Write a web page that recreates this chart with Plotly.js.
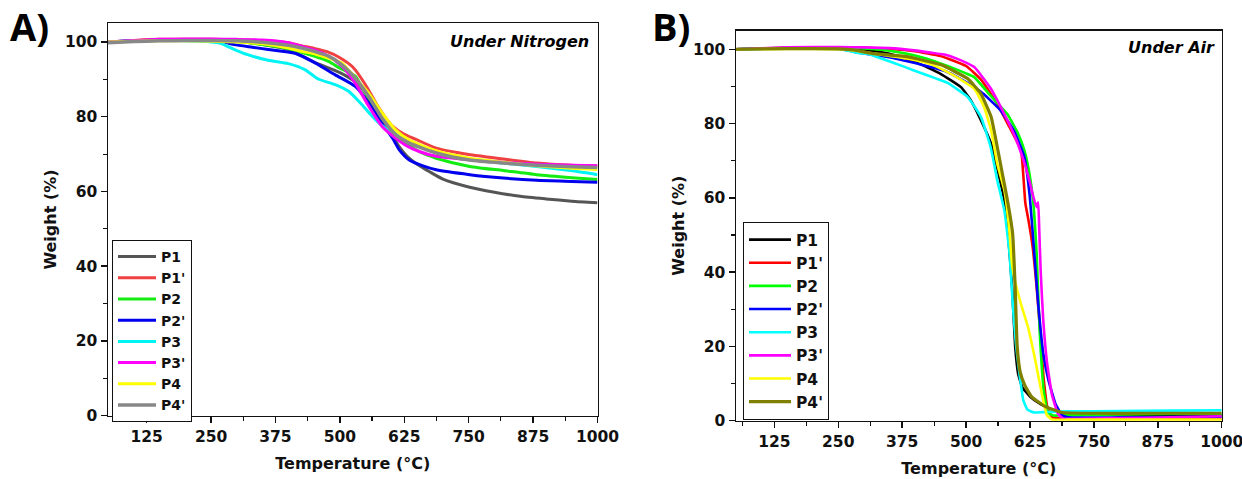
<!DOCTYPE html>
<html>
<head>
<meta charset="utf-8">
<script src="https://cdn.plot.ly/plotly-3.0.1.min.js"></script>
<style>html,body{margin:0;padding:0;background:#fff;}#chart{width:1242px;height:479px;}</style>
</head>
<body>
<div id="chart"></div>
<script>
// ---------- Data: (A) Under Nitrogen ----------
const seriesNames = ["P1", "P1'", "P2", "P2'", "P3", "P3'", "P4", "P4'"];
const xTickVals = [125, 250, 375, 500, 625, 750, 875, 1000];
const yTickVals = [0, 20, 40, 60, 80, 100];

const n2_P1_T  = [50,100,150,200,250,300,350,400,450,500,525,550,575,600,615,630,650,675,700,750,800,850,900,950,1000];
const n2_P1_W  = [100,100.3,100.6,100.6,100.5,100.2,99.3,98.0,94.6,91.8,89.8,86.5,81.0,75.5,72.0,69.5,67.3,65.2,63.3,61.2,59.8,58.7,58.0,57.4,57.0];
const n2_P1p_T = [50,100,150,200,250,300,350,400,425,450,475,500,525,550,575,600,625,650,687,750,817,882,950,1000];
const n2_P1p_W = [100,100.4,100.7,100.7,100.7,100.6,100.4,99.8,99.0,98.3,97.4,95.8,93.3,88.5,82.5,77.8,75.3,73.8,71.6,69.9,68.7,67.6,67.0,66.8];
const n2_P2_T  = [50,100,150,200,250,300,350,400,450,478,500,530,556,582,600,621,654,687,752,817,882,950,1000];
const n2_P2_W  = [100,100.3,100.5,100.5,100.4,100.1,99.3,98.2,96.2,94.8,93.0,90.8,84.6,79.2,76.5,73.8,70.7,68.9,66.7,65.6,64.5,63.7,63.2];
const n2_P2p_T = [50,100,150,200,250,280,295,330,361,413,452,491,530,556,582,602,615,634,660,687,752,817,882,950,1000];
const n2_P2p_W = [100,100.3,100.5,100.5,100.3,99.8,99.3,98.6,98.0,97.0,94.4,91.2,88.1,83.7,78.3,74.3,71.2,68.5,66.9,65.8,64.5,63.6,63.0,62.7,62.5];
const n2_P3_T  = [50,100,150,200,250,270,282,300,321,361,400,432,458,491,517,543,563,582,608,634,687,752,817,882,948,1000];
const n2_P3_W  = [100,100.3,100.4,100.3,100.0,99.6,98.8,97.7,96.6,95.1,94.2,92.6,90.1,88.6,86.8,83.2,80.1,77.6,75.2,73.4,70.7,68.6,67.6,66.7,65.6,64.5];
const n2_P3p_T = [50,100,150,200,250,300,350,400,426,452,478,504,530,556,582,608,630,654,687,752,817,882,950,1000];
const n2_P3p_W = [100,100.4,100.7,100.8,100.8,100.7,100.5,99.8,98.8,97.8,96.2,93.5,89.0,82.8,77.4,74.3,72.2,70.7,69.4,68.5,67.8,67.3,67.0,66.9];
const n2_P4_T  = [50,100,150,200,250,300,350,400,426,452,478,504,530,556,582,608,634,687,752,817,882,950,1000];
const n2_P4_W  = [100,100.2,100.3,100.3,100.2,100.0,99.5,98.4,97.5,96.8,95.7,94.4,90.3,86.3,81.0,76.5,73.8,70.9,68.9,67.8,66.9,66.2,65.9];
const n2_P4p_T = [50,100,150,200,250,300,350,400,426,452,478,504,530,556,582,608,634,687,752,817,882,950,1000];
const n2_P4p_W = [99.8,100.1,100.3,100.4,100.4,100.3,99.9,99.1,98.4,97.4,96.2,93.9,90.3,85.4,79.6,75.2,73.0,70.3,68.4,67.6,67.0,66.6,66.4];

// ---------- Data: (B) Under Air ----------
const air_P1_T  = [50,150,250,300,350,400,450,490,509,529,549,562,575,581,590,596,602,610,625,645,680,720,800,900,1000];
const air_P1_W  = [100,100.3,100.2,99.8,98.8,96.6,93.4,89.8,86.3,80.9,74.6,67.4,59.3,52.2,36,20,12.5,9.0,6.5,4.5,2.4,1.8,1.7,1.6,1.5];
const air_P1p_T = [50,150,250,300,350,400,450,500,530,560,585,600,608,612,616,622,630,638,645,652,660,670,700,800,900,1000];
const air_P1p_W = [100,100.4,100.5,100.4,100.1,99.5,98.2,95.5,91.7,85.5,79.0,75.0,72.5,66,58.5,54,47,36,24,11,3,0.8,0.5,0.5,0.5,0.5];
const air_P2_T  = [50,150,250,300,350,400,450,500,516,548,581,601,614,624,631,638,644,652,660,670,700,800,900,1000];
const air_P2_W  = [100,100.4,100.4,100.2,99.6,98.3,96.2,93.5,92.5,87.5,82.5,77.5,72.8,66.5,59.4,45,24,8,2.2,1.4,1.5,1.7,1.8,1.8];
const air_P2p_T = [50,150,250,282,300,344,400,442,463,499,533,567,594,614,624,631,641,651,661,675,688,700,800,900,1000];
const air_P2p_W = [100,100.3,100.2,99.3,98.9,98.0,96.3,94.8,93.9,91.2,88.1,83.6,78.0,71.0,61.2,49.5,31.6,18.1,11,4.5,1.5,0.9,0.9,1.0,1.0];
const air_P3_T  = [50,150,250,270,290,312,333,377,398,442,463,503,529,548,561,575,585,592,598,605,612,620,633,650,700,800,900,1000];
const air_P3_W  = [100,100.3,100.1,99.6,99.0,98.6,97.6,95.4,94.3,92.1,91.0,87.2,81.8,73.7,64.7,56.5,45,30,20,12,5.5,3.0,2.2,2.3,2.5,2.6,2.7,2.8];
const air_P3p_T = [50,150,250,300,350,398,430,463,490,516,548,575,594,604,615,625,633,638,641,643,646,651,658,668,680,690,750,850,1000];
const air_P3p_W = [100,100.5,100.6,100.5,100.3,99.7,99.1,98.4,97.0,95.2,89.5,82.5,77.0,73.5,69.0,64.0,59.5,57.5,58.8,52,40,27,16,7,1.8,0.6,0.6,0.8,1.2];
const air_P4_T  = [50,150,250,280,316,384,430,463,490,516,535,549,561,575,584,590,596,607,621,634,648,658,668,700,800,1000];
const air_P4_W  = [100,100.1,100.0,99.7,98.9,97.5,96.0,93.9,91.8,89.4,84.5,78.2,69.2,62.0,52.2,42,37.5,31.6,25.3,17.2,7.4,1.5,0.3,0.3,0.3,0.3];
const air_P4p_T = [50,150,250,280,316,384,451,503,529,549,561,571,581,591,596,600,606,615,628,655,688,750,850,1000];
const air_P4p_W = [100,100.2,100.1,99.8,98.9,98.0,95.8,92.1,88.0,81.8,73.7,66.5,59.3,50.5,36,20,13,9.5,6.5,3.8,2.2,2.0,2.0,2.0];

const n2Colors  = ["#555555", "#ef4141", "#14ec14", "#0000ee", "#00f4f4", "#ff00ff", "#ffff00", "#888888"];
const airColors = ["#000000", "#ff0000", "#00ff00", "#0000ff", "#00ffff", "#ff00ff", "#ffff00", "#808000"];

const n2T = [n2_P1_T, n2_P1p_T, n2_P2_T, n2_P2p_T, n2_P3_T, n2_P3p_T, n2_P4_T, n2_P4p_T];
const n2W = [n2_P1_W, n2_P1p_W, n2_P2_W, n2_P2p_W, n2_P3_W, n2_P3p_W, n2_P4_W, n2_P4p_W];
const airT = [air_P1_T, air_P1p_T, air_P2_T, air_P2p_T, air_P3_T, air_P3p_T, air_P4_T, air_P4p_T];
const airW = [air_P1_W, air_P1p_W, air_P2_W, air_P2p_W, air_P3_W, air_P3p_W, air_P4_W, air_P4p_W];

const W = 1242, H = 479;
const traces = [];
seriesNames.forEach((name, i) => {
  traces.push({
    x: n2T[i], y: n2W[i], name: name, type: 'scatter', mode: 'lines',
    xaxis: 'x', yaxis: 'y', legend: 'legend',
    line: {color: n2Colors[i], width: i === 7 ? 3.5 : 3, shape: 'spline', smoothing: 0.6}
  });
});
seriesNames.forEach((name, i) => {
  traces.push({
    x: airT[i], y: airW[i], name: name, type: 'scatter', mode: 'lines',
    xaxis: 'x2', yaxis: 'y2', legend: 'legend2',
    line: {color: airColors[i], width: i === 7 ? 3.2 : 2.6, shape: 'spline', smoothing: 0.4}
  });
});

const FONT = 'DejaVu Sans, Arial, sans-serif';
const tickFont = {family: FONT, size: 15.5, color: '#111', weight: 'bold'};
const titleFont = {family: FONT, size: 16, color: '#111', weight: 'bold'};

function xAxis(domain, anchor) {
  return {
    domain: domain, anchor: anchor, range: [50, 1000],
    tickmode: 'array', tickvals: xTickVals, ticktext: xTickVals.map(String),
    ticks: 'outside', ticklen: 6, tickwidth: 1.5, tickcolor: '#111',
    ticklabeloverflow: 'allow',
    minor: {tickmode: 'array', tickvals: [62.5, 187.5, 312.5, 437.5, 562.5, 687.5, 812.5, 937.5], ticks: 'outside', ticklen: 4, tickwidth: 1.2, tickcolor: '#111'},
    showline: true, linecolor: '#111', linewidth: 1.5, mirror: true,
    showgrid: false, zeroline: false, tickfont: tickFont,
    title: {text: 'Temperature (°C)', font: titleFont, standoff: 13}
  };
}
function yAxis(domain, anchor) {
  return {
    domain: domain, anchor: anchor, range: [0, 105],
    tickmode: 'array', tickvals: yTickVals, ticktext: yTickVals.map(String),
    ticks: 'outside', ticklen: 6, tickwidth: 1.5, tickcolor: '#111',
    ticklabeloverflow: 'allow',
    minor: {tickmode: 'array', tickvals: [10, 30, 50, 70, 90], ticks: 'outside', ticklen: 4, tickwidth: 1.2, tickcolor: '#111'},
    showline: true, linecolor: '#111', linewidth: 1.5, mirror: true,
    showgrid: false, zeroline: false, tickfont: tickFont,
    title: {text: 'Weight (%)', font: titleFont, standoff: 4}
  };
}

const layout = {
  width: W, height: H,
  margin: {l: 0, r: 0, t: 0, b: 0},
  paper_bgcolor: '#fff', plot_bgcolor: '#fff',
  showlegend: true,
  xaxis: xAxis([108 / W, 597.5 / W], 'y'),
  yaxis: yAxis([(H - 415.7) / H, (H - 23.3) / H], 'x'),
  xaxis2: xAxis([736 / W, 1221.7 / W], 'y2'),
  yaxis2: yAxis([(H - 420.7) / H, (H - 30.7) / H], 'x2'),
  legend: {
    x: 112 / W, y: 1 - 240 / H, xanchor: 'left', yanchor: 'top',
    bgcolor: '#fff', bordercolor: '#111', borderwidth: 1,
    font: {family: FONT, size: 14, color: '#111', weight: 'bold'},
    itemwidth: 38, tracegroupgap: 0
  },
  legend2: {
    x: 743 / W, y: 1 - 222 / H, xanchor: 'left', yanchor: 'top',
    bgcolor: '#fff', bordercolor: '#111', borderwidth: 1,
    font: {family: FONT, size: 15.5, color: '#111', weight: 'bold'},
    itemwidth: 42, tracegroupgap: 0
  },
  annotations: [
    {text: 'A)', xref: 'paper', yref: 'paper', x: 8 / W, y: 1 + 2 / H, xanchor: 'left', yanchor: 'top', showarrow: false,
     font: {family: 'Open Sans, sans-serif', size: 38, color: '#000', weight: 'bold'}},
    {text: 'B)', xref: 'paper', yref: 'paper', x: 650 / W, y: 1 + 2 / H, xanchor: 'left', yanchor: 'top', showarrow: false,
     font: {family: 'Open Sans, sans-serif', size: 38, color: '#000', weight: 'bold'}},
    {text: 'Under Nitrogen', xref: 'paper', yref: 'paper', x: 591 / W, y: 1 - 42 / H, xanchor: 'right', yanchor: 'middle', showarrow: false,
     font: {family: FONT, size: 16, color: '#000', weight: 'bold', style: 'italic'}},
    {text: 'Under Air', xref: 'paper', yref: 'paper', x: 1217 / W, y: 1 - 48 / H, xanchor: 'right', yanchor: 'middle', showarrow: false,
     font: {family: FONT, size: 16, color: '#000', weight: 'bold', style: 'italic'}}
  ]
};

Plotly.newPlot('chart', traces, layout, {displayModeBar: false, staticPlot: true});
</script>
</body>
</html>
